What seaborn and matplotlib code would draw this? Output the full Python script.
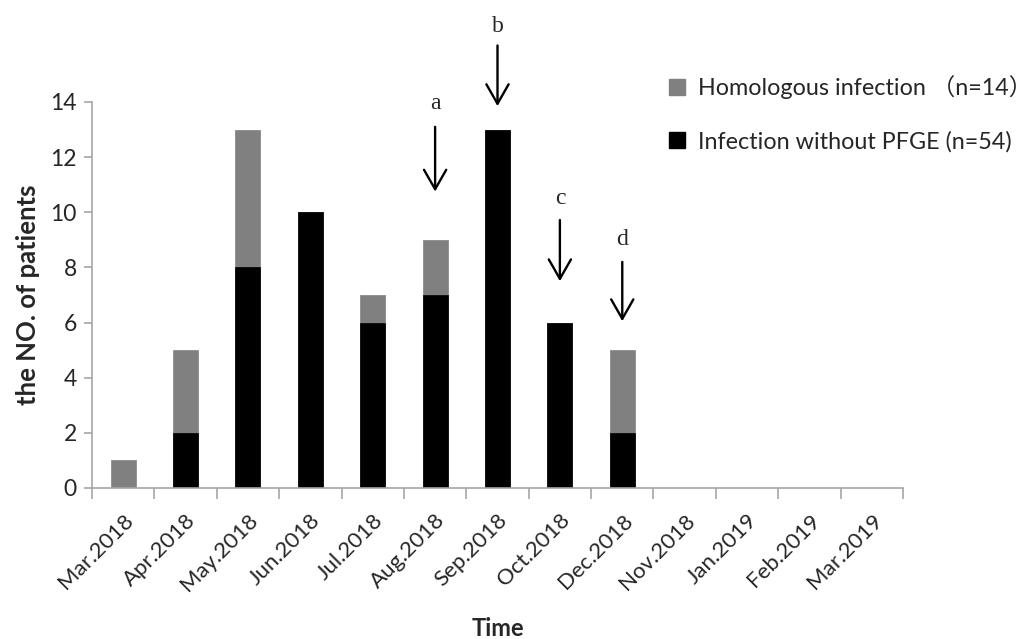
import matplotlib
matplotlib.use("Agg")
import matplotlib.pyplot as plt
from matplotlib.patches import Patch
import seaborn as sns
import pandas as pd

categories = ["Mar.2018", "Apr.2018", "May.2018", "Jun.2018", "Jul.2018", "Aug.2018",
              "Sep.2018", "Oct.2018", "Dec.2018", "Nov.2018", "Jan.2019", "Feb.2019", "Mar.2019"]
homologous = [1, 3, 5, 0, 1, 2, 0, 0, 3, 0, 0, 0, 0]
without_pfge = [0, 2, 8, 10, 6, 7, 13, 6, 2, 0, 0, 0, 0]
yticks = [0, 2, 4, 6, 8, 10, 12, 14]
label_homologous = "Homologous infection （n=14）"
label_without = "Infection without PFGE (n=54)"

# arrow annotations: (letter, category index, label y, arrow top y, arrow tip y)
arrow_letters = ["a", "b", "c", "d"]
arrow_x = [5, 6, 7, 8]
arrow_label_y = [13.95, 16.75, 10.5, 9.0]
arrow_top_y = [13.1, 16.05, 9.72, 8.2]
arrow_tip_y = [10.75, 13.85, 7.5, 6.05]

sns.set_theme(style="white")
plt.rcParams['font.family'] = ['Lato', 'Noto Sans CJK SC', 'DejaVu Sans']

df = pd.DataFrame({
    "Time": categories,
    "total": [h + w for h, w in zip(homologous, without_pfge)],
    "black": without_pfge,
})

fig = plt.figure(figsize=(10.33, 6.39), dpi=100)
ax = fig.add_axes([92 / 1033, 1 - 488 / 639, 811 / 1033, (488 - 102) / 639])

gray = "#808080"
sns.barplot(data=df, x="Time", y="total", order=categories, color=gray, width=0.4,
            saturation=1, ax=ax, edgecolor=gray, linewidth=0.5)
sns.barplot(data=df, x="Time", y="black", order=categories, color="black", width=0.4,
            saturation=1, ax=ax, edgecolor="black", linewidth=0.5)

ax.set_xlim(-0.5, len(categories) - 0.5)
ax.set_ylim(0, 14)
ax.set_yticks(yticks)
ax.set_yticklabels([str(t) for t in yticks], fontsize=16.5)

spine_c = "#a6a6a6"
for s in ["top", "right"]:
    ax.spines[s].set_visible(False)
for s in ["left", "bottom"]:
    ax.spines[s].set_color(spine_c)
    ax.spines[s].set_linewidth(1.2)

ax.tick_params(axis="y", which="major", left=True, length=6, width=1.2, color=spine_c,
               pad=5, labelsize=16.5)
# category boundary ticks
ax.set_xticks([i - 0.5 for i in range(len(categories) + 1)], minor=True)
ax.tick_params(axis="x", which="minor", bottom=True, length=8, width=1.2, color=spine_c)
ax.set_xticks(range(len(categories)))
ax.set_xticklabels(categories, rotation=45, ha="right", rotation_mode="anchor", fontsize=16)
ax.tick_params(axis="x", which="major", bottom=False, length=0, pad=16)

ax.set_xlabel("Time", fontsize=17, fontweight="bold", labelpad=16)
ax.set_ylabel("the NO. of patients", fontsize=18.5, fontweight="bold", labelpad=7)

for letter, xi, ly, ty, tip in zip(arrow_letters, arrow_x, arrow_label_y, arrow_top_y, arrow_tip_y):
    ax.annotate("", xy=(xi, tip), xytext=(xi, ty), xycoords="data", textcoords="data",
                arrowprops=dict(arrowstyle="->,head_length=1.4,head_width=0.8",
                                mutation_scale=10, lw=1.7, color="black",
                                shrinkA=0, shrinkB=0),
                annotation_clip=False)
    ax.text(xi, ly, letter, ha="center", va="center", fontsize=17,
            family="Liberation Serif", clip_on=False)

handles = [Patch(facecolor=gray, edgecolor=gray), Patch(facecolor="black", edgecolor="black")]
fig.legend(handles, [label_homologous, label_without], loc="upper left",
           bbox_to_anchor=(660 / 1033, 1 - 66 / 639), frameon=False, fontsize=16.8,
           handlelength=0.65, handleheight=0.65, handletextpad=0.6, labelspacing=1.35,
           borderaxespad=0)

fig.savefig("out.png", dpi=100)
